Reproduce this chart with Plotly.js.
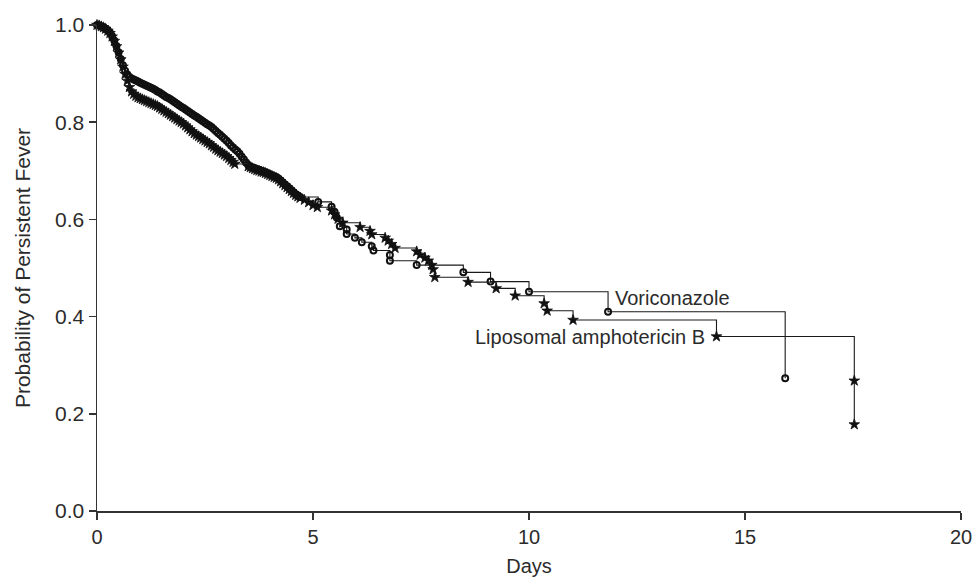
<!DOCTYPE html>
<html>
<head>
<meta charset="utf-8">
<script src="https://cdn.plot.ly/plotly-3.0.1.min.js"></script>
<style>html,body{margin:0;padding:0;background:#fff;}#chart{width:974px;height:582px;}</style>
</head>
<body>
<div id="chart"></div>
<script>
// Voriconazole: event times (days) and probability after each event
const voriDays = [0,0.05,0.1,0.15,0.2,0.25,0.3,0.35,0.4,0.45,0.5,0.55,0.6,0.65,0.7,0.75,0.8,0.85,0.9,0.95,1.0,1.05,1.1,1.15,1.2,1.25,1.3,1.35,1.4,1.45,1.5,1.55,1.6,1.65,1.7,1.75,1.8,1.85,1.9,1.95,2.0,2.05,2.1,2.15,2.2,2.25,2.3,2.35,2.4,2.45,2.5,2.55,2.6,2.65,2.7,2.75,2.8,2.85,2.9,2.95,3.0,3.05,3.1,3.15,3.2,3.25,3.3,3.35,3.4,3.45,3.5,3.55,3.6,3.65,3.7,3.75,3.8,3.85,3.9,3.95,4.0,4.05,4.1,4.15,4.2,4.25,4.3,4.35,4.4,4.45,4.5,4.55,4.6,4.65,4.7,5.12,5.43,5.5,5.55,5.62,5.78,5.78,5.97,6.13,6.36,6.40,6.78,6.78,7.40,8.48,9.11,10.0,11.83,15.93];
const voriSurv = [1.0,0.999,0.997,0.995,0.992,0.989,0.984,0.977,0.968,0.957,0.944,0.930,0.917,0.906,0.898,0.893,0.890,0.888,0.886,0.884,0.881,0.879,0.877,0.875,0.873,0.871,0.869,0.866,0.863,0.861,0.858,0.855,0.852,0.850,0.847,0.844,0.841,0.838,0.835,0.832,0.829,0.826,0.823,0.820,0.817,0.814,0.811,0.808,0.805,0.802,0.799,0.796,0.793,0.790,0.786,0.782,0.778,0.774,0.770,0.766,0.762,0.757,0.752,0.748,0.744,0.740,0.735,0.729,0.723,0.717,0.712,0.709,0.707,0.705,0.703,0.702,0.700,0.699,0.697,0.695,0.693,0.691,0.689,0.687,0.684,0.680,0.676,0.672,0.668,0.664,0.660,0.656,0.652,0.649,0.646,0.636,0.626,0.615,0.604,0.586,0.579,0.570,0.562,0.553,0.545,0.536,0.527,0.515,0.506,0.491,0.472,0.451,0.410,0.273];

// Liposomal amphotericin B
const lipoDays = [0,0.05,0.1,0.15,0.2,0.25,0.3,0.35,0.4,0.45,0.5,0.55,0.6,0.65,0.7,0.75,0.8,0.85,0.9,0.95,1.0,1.05,1.1,1.15,1.2,1.25,1.3,1.35,1.4,1.45,1.5,1.55,1.6,1.65,1.7,1.75,1.8,1.85,1.9,1.95,2.0,2.05,2.1,2.15,2.2,2.25,2.3,2.35,2.4,2.45,2.5,2.55,2.6,2.65,2.7,2.75,2.8,2.85,2.9,2.95,3.0,3.05,3.1,3.15,3.19,3.5,3.55,3.6,3.65,3.7,3.75,3.8,3.85,3.9,3.95,4.0,4.05,4.1,4.15,4.2,4.25,4.3,4.35,4.4,4.45,4.5,4.55,4.6,4.65,4.7,4.8,4.9,5.0,5.1,5.43,5.5,5.58,5.69,6.09,6.32,6.36,6.67,6.74,6.82,6.90,7.40,7.48,7.59,7.67,7.75,7.78,7.82,8.59,9.24,9.68,10.35,10.42,11.02,14.34,17.53,17.53];
const lipoSurv = [1.0,0.999,0.997,0.995,0.992,0.988,0.983,0.976,0.967,0.956,0.943,0.929,0.914,0.899,0.885,0.872,0.863,0.858,0.854,0.851,0.849,0.847,0.845,0.843,0.841,0.839,0.837,0.835,0.833,0.830,0.827,0.824,0.821,0.818,0.815,0.812,0.809,0.806,0.803,0.800,0.797,0.793,0.789,0.785,0.781,0.777,0.774,0.771,0.768,0.765,0.762,0.759,0.756,0.752,0.749,0.745,0.742,0.739,0.736,0.733,0.730,0.726,0.722,0.718,0.714,0.709,0.707,0.705,0.703,0.701,0.700,0.698,0.697,0.695,0.693,0.691,0.689,0.687,0.685,0.682,0.678,0.674,0.670,0.666,0.662,0.658,0.654,0.650,0.647,0.644,0.640,0.635,0.629,0.625,0.618,0.610,0.601,0.593,0.584,0.576,0.569,0.562,0.556,0.549,0.541,0.534,0.527,0.521,0.515,0.506,0.497,0.481,0.471,0.458,0.443,0.427,0.412,0.393,0.359,0.268,0.178];

const xTicks = [0,5,10,15,20];
const yTicks = [0,0.2,0.4,0.6,0.8,1.0];
const yTickText = ['0.0','0.2','0.4','0.6','0.8','1.0'];

const font = 'Liberation Sans, Arial, sans-serif';
const ink = '#2b2b2b';

const traces = [
  {
    x: voriDays, y: voriSurv, name: 'Voriconazole',
    type: 'scatter', mode: 'lines+markers',
    line: {shape: 'hv', color: '#1a1a1a', width: 1.1},
    marker: {symbol: 'circle-open', size: 6, color: '#111', line: {width: 2, color: '#111'}},
    cliponaxis: false
  },
  {
    x: lipoDays, y: lipoSurv, name: 'Liposomal amphotericin B',
    type: 'scatter', mode: 'lines+markers',
    line: {shape: 'hv', color: '#1a1a1a', width: 1.1},
    marker: {symbol: 'star', size: 8, color: '#111', line: {width: 0.8, color: '#111'}},
    cliponaxis: false
  }
];

const layout = {
  width: 974, height: 582,
  margin: {l: 97, r: 13, t: 25, b: 71},
  paper_bgcolor: '#fff', plot_bgcolor: '#fff',
  showlegend: false,
  font: {family: font, color: ink, size: 20},
  xaxis: {
    range: [0, 20], tickvals: xTicks, ticks: 'outside', ticklen: 7, tickwidth: 1.5,
    tickcolor: '#333', showline: true, linecolor: '#333', linewidth: 1.5,
    showgrid: false, zeroline: false, fixedrange: true,
    tickfont: {family: font, size: 20, color: ink},
    title: {text: 'Days', font: {family: font, size: 20, color: ink}, standoff: 12},
    automargin: false
  },
  yaxis: {
    range: [0, 1.0], tickvals: yTicks, ticktext: yTickText, ticks: 'outside', ticklen: 7, tickwidth: 1.5,
    tickcolor: '#333', showline: true, linecolor: '#333', linewidth: 1.5,
    showgrid: false, zeroline: false, fixedrange: true,
    tickfont: {family: font, size: 21, color: ink},
    title: {text: 'Probability of Persistent Fever', font: {family: font, size: 21, color: ink}, standoff: 18},
    automargin: false
  },
  annotations: [
    {x: 11.94, y: 0.438, xref: 'x', yref: 'y', text: 'Voriconazole', showarrow: false,
     xanchor: 'left', yanchor: 'middle', font: {family: font, size: 20, color: ink}},
    {x: 14.13, y: 0.358, xref: 'x', yref: 'y', text: 'Liposomal amphotericin B', showarrow: false,
     xanchor: 'right', yanchor: 'middle', font: {family: font, size: 20, color: ink}}
  ]
};

Plotly.newPlot('chart', traces, layout, {displayModeBar: false, staticPlot: true});
</script>
</body>
</html>
